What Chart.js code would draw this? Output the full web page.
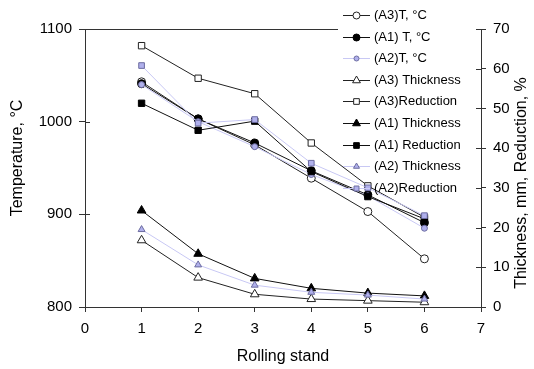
<!DOCTYPE html>
<html>
<head>
<meta charset="utf-8">
<script src="https://cdn.jsdelivr.net/npm/chart.js@4.4.1/dist/chart.umd.min.js"></script>
<style>
html,body{margin:0;padding:0;background:#fff;}
#wrap{width:534px;height:369px;}
</style>
</head>
<body>
<div id="wrap"><canvas id="c" width="534" height="369"></canvas></div>
<script>
const stands = [1, 2, 3, 4, 5, 6];
const a3Temp = [1043, 1003, 975, 939, 903, 852];
const a1Temp = [1041, 1003, 977, 947, 921, 891];
const a2Temp = [1040, 1000, 973, 943, 920, 885];
const a3Thick = [16.8, 7.4, 3.2, 2.0, 1.6, 1.2];
const a3Red = [65.8, 57.6, 53.7, 41.3, 30.5, 22.6];
const a1Thick = [24.3, 13.4, 7.2, 4.7, 3.5, 2.8];
const a1Red = [51.3, 44.5, 46.8, 34.1, 27.8, 22.2];
const a2Thick = [19.5, 10.6, 5.5, 3.7, 3.0, 2.0];
const a2Red = [60.8, 46.3, 47.2, 36.2, 30.0, 23.0];
const tempTicks = [800, 900, 1000, 1100];
const rightTicks = [0, 10, 20, 30, 40, 50, 60, 70];
const xTicks = [0, 1, 2, 3, 4, 5, 6, 7];

const pts = arr => stands.map((s, i) => ({x: s, y: arr[i]}));
const BLUE_LINE = '#c8c8f4';
const BLUE_FILL = '#b0b0ec';
const BLUE_EDGE = '#6c6ca0';

let idx = 0;
function ds(label, data, axis, style, line, fill, edge, r) {
  return {label, data: pts(data), yAxisID: axis, borderColor: line, borderWidth: 1,
    pointStyle: style, pointBackgroundColor: fill, pointBorderColor: edge,
    pointBorderWidth: 1, pointRadius: r, pointHoverRadius: r, tension: 0, fill: false,
    order: -(idx++)};
}
const datasets = [
  ds('(A3)T, °C', a3Temp, 'yT', 'circle', '#222', '#fff', '#222', 4),
  ds('(A1) T, °C', a1Temp, 'yT', 'circle', '#111', '#000', '#000', 4),
  ds('(A2)T, °C', a2Temp, 'yT', 'circle', BLUE_LINE, BLUE_FILL, BLUE_EDGE, 3),
  ds('(A3) Thickness', a3Thick, 'yR', 'triangle', '#222', '#fff', '#222', 5),
  ds('(A3)Reduction', a3Red, 'yR', 'rect', '#222', '#fff', '#222', 4.5),
  ds('(A1) Thickness', a1Thick, 'yR', 'triangle', '#111', '#000', '#000', 5),
  ds('(A1) Reduction', a1Red, 'yR', 'rect', '#111', '#000', '#000', 4.5),
  ds('(A2) Thickness', a2Thick, 'yR', 'triangle', BLUE_LINE, BLUE_FILL, BLUE_EDGE, 4),
  ds('(A2)Reduction', a2Red, 'yR', 'rect', BLUE_LINE, BLUE_FILL, BLUE_EDGE, 4)
];

const FONT = 'Arial, "Liberation Sans", sans-serif';
const AX = '#333';
const plain = v => String(v);

const extras = {
  id: 'extras',
  afterDraw(chart) {
    const ctx = chart.ctx;
    const ca = chart.chartArea;
    const sl = chart.scales.yT, sr = chart.scales.yR;
    ctx.save();
    ctx.strokeStyle = AX; ctx.lineWidth = 1;
    ctx.beginPath();
    tempTicks.forEach(v => { const y = Math.round(sl.getPixelForValue(v)) + 0.5; ctx.moveTo(ca.left, y); ctx.lineTo(ca.left + 5, y); });
    rightTicks.forEach(v => { const y = Math.round(sr.getPixelForValue(v)) + 0.5; ctx.moveTo(ca.right - 5, y); ctx.lineTo(ca.right, y); });
    const yt = Math.round(ca.top) + 0.5;
    ctx.moveTo(ca.left, yt); ctx.lineTo(338, yt);
    ctx.stroke();
    ctx.fillStyle = '#000';
    ctx.font = '16px ' + FONT;
    ctx.textAlign = 'center'; ctx.textBaseline = 'middle';
    ctx.fillText('Rolling stand', (ca.left + ca.right) / 2, 357);
    ctx.save(); ctx.translate(18, 158); ctx.rotate(-Math.PI / 2);
    ctx.fillText('Temperature, °C', 0, 0); ctx.restore();
    ctx.save(); ctx.translate(522, 183); ctx.rotate(-Math.PI / 2);
    ctx.fillText('Thickness, mm, Reduction, %', 0, 0); ctx.restore();
    ctx.font = '13px ' + FONT;
    ctx.textAlign = 'left';
    chart.data.datasets.forEach((d, i) => {
      const y = 15 + i * 21.6;
      const yy = Math.round(y) + 0.5;
      ctx.strokeStyle = d.borderColor; ctx.lineWidth = 1;
      ctx.beginPath(); ctx.moveTo(343, yy); ctx.lineTo(370, yy); ctx.stroke();
      ctx.fillStyle = d.pointBackgroundColor; ctx.strokeStyle = d.pointBorderColor;
      Chart.helpers.drawPoint(ctx, {pointStyle: d.pointStyle, radius: d.pointRadius - 0.5, borderWidth: 1}, 356.5, yy);
      ctx.fillStyle = '#000';
      ctx.fillText(d.label, 374, y + 0.5);
    });
    ctx.restore();
  }
};

new Chart(document.getElementById('c'), {
  type: 'line',
  data: {datasets},
  options: {
    responsive: false, animation: false, devicePixelRatio: 1,
    layout: {padding: {top: 29, left: 0, right: 0, bottom: 0}},
    plugins: {legend: {display: false}, tooltip: {enabled: false}},
    scales: {
      x: {type: 'linear', min: 0, max: 7,
        afterBuildTicks: s => { s.ticks = xTicks.map(v => ({value: v})); },
        afterFit: s => { s.height = 62; },
        ticks: {color: '#000', font: {size: 15, family: FONT}, padding: 8, callback: plain},
        grid: {drawOnChartArea: false, drawTicks: true, tickLength: 5, color: AX},
        border: {color: AX, width: 1}},
      yT: {type: 'linear', position: 'left', min: 800, max: 1100,
        afterBuildTicks: s => { s.ticks = tempTicks.map(v => ({value: v})); },
        afterFit: s => { s.width = 85; },
        ticks: {color: '#000', font: {size: 15, family: FONT}, padding: 7, callback: plain},
        grid: {drawOnChartArea: false, drawTicks: true, tickLength: 6, color: AX},
        border: {color: AX, width: 1}},
      yR: {type: 'linear', position: 'right', min: 0, max: 70,
        afterBuildTicks: s => { s.ticks = rightTicks.map(v => ({value: v})); },
        afterFit: s => { s.width = 53; },
        ticks: {color: '#000', font: {size: 15, family: FONT}, padding: 7, callback: plain},
        grid: {drawOnChartArea: false, drawTicks: true, tickLength: 5, color: AX},
        border: {color: AX, width: 1}}
    }
  },
  plugins: [extras]
});
</script>
</body>
</html>
